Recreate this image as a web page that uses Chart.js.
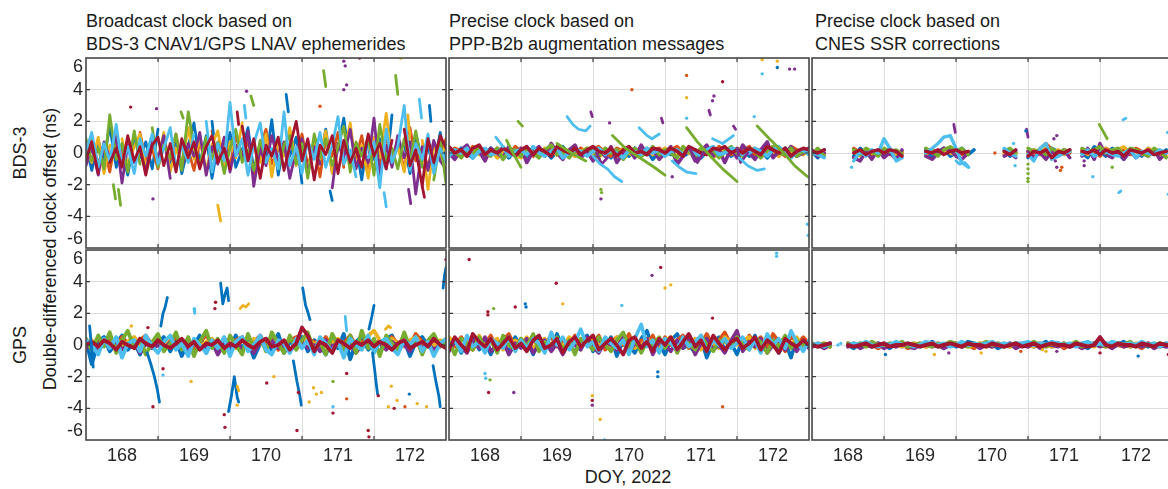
<!DOCTYPE html>
<html lang="en">
<head>
<meta charset="UTF-8">
<title>Double-differenced clock offset, DOY 168-172, 2022</title>
<script src="https://cdn.jsdelivr.net/npm/chart.js"></script>
<style>
  html, body { margin: 0; padding: 0; background: #fff; overflow: hidden; }
  #fig { position: relative; width: 1168px; height: 489px; font-family: "Liberation Sans", Arial, sans-serif; color: #1a1a1a; }
  #fig canvas { position: absolute; }
  .title { position: absolute; top: 10px; font-size: 18px; line-height: 22.5px; white-space: nowrap; }
  .ylab { position: absolute; font-size: 18px; line-height: 18px; white-space: nowrap; transform: translate(-50%, -50%) rotate(-90deg); }
  .xlab { position: absolute; font-size: 18px; line-height: 18px; white-space: nowrap; transform: translateX(-50%); }
</style>
</head>
<body>
<div id="fig">
  <div class="title" style="left:86px">Broadcast clock based on<br>BDS-3 CNAV1/GPS LNAV ephemerides</div>
  <div class="title" style="left:449px">Precise clock based on<br>PPP-B2b augmentation messages</div>
  <div class="title" style="left:815px">Precise clock based on<br>CNES SSR corrections</div>
  <div class="ylab" style="left:19.5px; top:153px">BDS-3</div>
  <div class="ylab" style="left:19.5px; top:345px">GPS</div>
  <div class="ylab" style="left:50px; top:249px">Double-differenced clock offset (ns)</div>
  <div class="xlab" style="left:628px; top:467.5px">DOY, 2022</div>
</div>

<script>
// gap marker
const _ = null;

// epochs (DOY), every 2 hours
const epochs = [
  167.50, 167.58, 167.67, 167.75, 167.83, 167.92, 168.00, 168.08, 168.17, 168.25, 168.33, 168.42,
  168.50, 168.58, 168.67, 168.75, 168.83, 168.92, 169.00, 169.08, 169.17, 169.25, 169.33, 169.42,
  169.50, 169.58, 169.67, 169.75, 169.83, 169.92, 170.00, 170.08, 170.17, 170.25, 170.33, 170.42,
  170.50, 170.58, 170.67, 170.75, 170.83, 170.92, 171.00, 171.08, 171.17, 171.25, 171.33, 171.42,
  171.50, 171.58, 171.67, 171.75, 171.83, 171.92, 172.00, 172.08, 172.17, 172.25, 172.33, 172.42,
  172.50
];
const dayLabels = [168, 169, 170, 171, 172];
const rowNames = ["BDS-3", "GPS"];
const colTitles = ["Broadcast clock", "PPP-B2b precise clock", "CNES SSR precise clock"];

// MATLAB default colour order, one per satellite group
const palette = ["#0072BD", "#D95319", "#EDB120", "#7E2F8E", "#77AC30", "#4DBEEE", "#A2142F"];

// ---------- BDS-3, broadcast ----------
const bdsBrdcSeries = [
  [0.5,-1.1,0.8,-0.4,1.7,-0.9,0.2,-1.4,1.0,-0.3,0.7,-1.0,
   1.5,_,-0.6,0.9,-1.3,0.4,1.9,-0.7,1.1,-1.6,0.5,-0.2,
   1.3,-0.9,0.2,1.6,-1.1,_,-0.5,2.1,-1.4,0.6,-0.2,1.0,
   -1.9,_,0.8,-0.6,1.5,-1.2,0.3,2.2,-0.9,0.5,-1.7,1.1,
   -0.4,0.9,-1.0,2.4,_,0.6,-1.3,1.2,-0.5,0.4,-0.9,1.3,
   -0.6],
  [-0.3,0.9,-0.7,0.4,-1.2,1.1,-0.2,0.6,_,1.3,-0.5,0.3,
   -1.0,0.8,-0.4,1.2,-0.8,0.2,-1.1,0.7,_,1.4,-0.6,0.5,
   -0.9,1.1,-0.3,0.8,-1.3,0.4,1.5,-0.7,0.2,_,0.9,-0.4,
   1.2,-0.8,0.5,-1.5,0.9,-0.2,1.3,-0.9,_,-0.3,1.1,-1.2,
   0.4,-0.7,1.0,-0.3,0.8,-1.1,1.6,-0.5,0.3,-0.9,0.7,-0.2,
   0.9],
  [0.2,-0.6,1.0,-1.3,0.5,_,0.9,-0.8,0.4,1.2,-1.0,0.6,
   -0.5,1.3,-1.2,0.3,-0.7,1.6,-0.4,0.8,-1.1,0.5,1.4,-0.9,
   0.7,-0.3,1.9,_,0.4,-0.6,1.2,-1.5,0.8,-0.2,1.6,-0.8,
   0.3,-1.1,0.9,-0.4,1.4,-1.3,0.6,-0.1,1.9,-0.9,0.5,-1.6,
   1.0,-0.3,2.5,-0.6,0.4,-1.2,1.3,_,0.8,-2.3,0.5,-0.4,
   0.6],
  [-0.8,0.4,-1.4,0.7,-0.3,1.0,-1.9,0.5,-0.6,0.2,-1.2,0.8,
   -0.4,1.1,-1.6,_,-0.9,0.6,-0.2,1.3,-1.4,0.4,-0.7,1.0,
   -1.2,0.5,-0.4,1.4,-2.1,0.3,-0.8,1.1,-0.5,0.7,-1.6,0.2,
   0.9,-1.3,0.4,-0.7,_,-2.2,0.6,-0.3,1.5,-1.0,0.3,-0.6,
   2.2,-1.4,0.5,-0.9,1.1,-0.3,0.7,-2.6,0.4,-1.1,0.8,-0.5,
   -1.0],
  [0.9,-0.5,0.3,-1.0,2.4,-0.4,0.6,-1.2,1.4,-0.7,_,1.6,
   -0.9,0.5,-0.3,1.2,-1.1,2.6,0.4,-0.8,1.0,-0.4,0.7,-1.3,
   0.3,1.5,-0.6,0.2,-1.1,0.8,-0.4,_,-1.0,0.5,1.1,-0.7,
   0.6,-1.6,1.2,-0.3,0.9,-0.8,0.4,1.7,-1.2,0.7,-0.2,1.0,
   -1.4,1.8,-0.5,0.3,-1.0,0.9,-0.6,1.4,-0.9,_,-1.7,0.8,
   -1.9],
  [0.1,1.3,-0.9,0.6,-0.5,1.8,-0.8,0.4,-1.3,0.9,-0.2,1.2,
   -0.7,0.3,1.6,-1.0,0.5,-0.6,1.2,_,2.0,-1.2,0.6,-0.5,
   3.2,-0.2,0.9,-1.4,0.6,1.9,-0.6,0.3,-1.0,2.6,-0.8,0.4,
   -1.3,0.8,-0.4,1.3,-0.9,0.5,2.3,-0.7,0.2,-1.5,_,-0.3,
   0.7,-2.2,1.5,-0.6,0.4,3.0,-1.1,0.6,-0.4,1.2,-1.3,0.3,
   -0.5],
  [-0.4,0.7,-1.3,_,-0.6,0.3,-0.9,1.1,-0.5,0.4,-1.4,0.5,
   1.0,-0.8,0.6,-1.2,0.9,-0.3,0.7,-1.0,0.4,1.1,-0.6,0.3,
   -1.0,_,1.7,-0.5,0.9,-1.6,0.5,-0.2,1.0,-1.1,0.4,2.0,
   -0.5,0.9,-1.7,0.5,-0.1,1.1,-1.3,0.8,-0.6,0.3,-0.9,1.2,
   -0.2,0.6,-1.0,0.8,_,1.5,-0.8,0.2,-2.1,0.9,-0.6,1.1,
   0.3]
];
const bdsBrdcArcs = [
  [[[170.28,3.7],[170.31,2.6]], [[172.27,3.0],[172.29,2.0]], [[170.89,-2.4],[170.92,-3.0]], [[169.25,2.0],[169.27,1.2]]],
  [],
  [[[169.33,-3.3],[169.37,-4.3]], [[171.97,2.4],[171.99,1.4]]],
  [[[171.98,-2.3],[172.01,-3.2]]],
  [[[170.80,5.2],[170.83,4.2]], [[171.80,4.9],[171.83,3.7]], [[169.79,3.6],[169.83,3.0]],
   [[167.88,-2.0],[167.91,-2.9]], [[167.95,-2.3],[167.98,-3.3]], [[168.82,2.6],[168.85,2.2]]],
  [[[172.13,3.4],[172.16,2.2]], [[171.64,-2.5],[171.67,-3.4]], [[169.70,3.0],[169.72,2.2]]],
  [[[172.17,-2.1],[172.20,-2.8]], [[169.60,2.6],[169.62,1.8]]]
];
const bdsBrdcDots = [
  [],
  [[170.75,2.95]],
  [[171.87,6.0]],
  [[171.08,5.8],[171.10,5.5],[171.12,4.3],[171.08,4.0],[168.43,-2.9],[168.48,2.8],[169.73,3.9]],
  [],
  [],
  [[171.30,6.0],[168.12,2.9]]
];

// ---------- BDS-3, PPP-B2b ----------
const bdsB2bSeries = [
  [0.1,-0.2,0.3,0.0,-0.3,0.2,-0.1,0.3,-0.2,0.1,-0.3,0.2,
   0.0,-0.2,0.3,-0.1,0.2,-0.3,0.1,0.4,-0.1,0.2,-0.2,0.0,
   0.3,-0.1,0.1,-0.3,0.2,0.0,-0.2,0.3,-0.1,0.2,-0.4,0.1,
   0.2,-0.1,0.3,-0.2,0.0,0.2,-0.3,0.1,0.3,-0.1,0.2,-0.2,
   0.1,0.3,-0.2,0.0,0.2,-0.3,0.1,-0.1,0.3,0.0,-0.2,0.2,
   0.1],
  [-0.1,0.3,0.1,-0.2,0.4,0.0,0.2,-0.1,0.3,0.1,-0.2,0.4,
   0.1,0.3,-0.2,0.2,0.0,0.4,-0.1,0.2,0.1,-0.2,0.3,0.0,
   0.2,0.4,0.0,-0.2,0.3,0.1,0.2,-0.1,0.4,0.0,0.2,0.3,
   -0.1,0.2,0.4,0.0,0.3,-0.2,0.1,0.3,0.0,0.4,0.1,-0.1,
   0.3,0.1,0.4,-0.1,0.2,0.0,0.3,0.1,-0.2,0.4,0.2,0.0,
   0.3],
  [0.2,0.0,-0.2,0.1,0.3,-0.1,0.0,0.2,-0.3,0.0,0.2,-0.1,
   -0.3,0.1,0.0,-0.2,0.3,0.1,-0.1,0.0,0.2,-0.2,0.1,0.3,
   0.0,-0.3,0.2,0.1,-0.1,0.3,0.0,-0.2,0.1,0.3,-0.1,0.0,
   0.3,0.1,-0.2,0.2,0.0,-0.1,0.3,0.1,-0.3,0.0,0.2,0.1,
   -0.2,0.0,0.2,0.3,-0.1,0.1,0.0,-0.2,0.2,0.1,0.0,-0.1,
   0.2],
  [0.0,-0.4,0.2,0.5,-0.2,0.1,-0.5,0.3,0.0,-0.3,0.4,-0.1,
   0.3,-0.6,0.1,0.4,-0.2,0.6,0.0,-0.4,0.2,0.5,-0.3,0.1,
   -0.5,0.2,-0.2,0.4,-0.6,0.0,0.3,-0.3,0.5,-0.1,0.2,-0.4,
   0.0,0.4,-0.7,-0.2,0.3,-0.5,0.1,0.5,-0.2,0.2,-0.6,0.3,
   -0.3,0.5,0.0,-0.4,0.2,0.7,-0.3,0.1,-0.1,0.4,-0.2,0.0,
   0.3],
  [0.3,0.1,-0.3,0.2,-0.1,0.4,0.0,-0.2,0.3,-0.4,0.1,0.2,
   -0.2,0.3,0.0,-0.3,0.2,0.5,-0.1,0.1,-0.3,0.2,0.0,0.3,
   0.1,-0.2,0.3,0.0,0.2,-0.4,0.1,0.3,-0.2,0.0,0.4,-0.1,
   0.2,0.0,-0.3,0.4,0.1,-0.2,0.3,0.0,0.2,-0.3,0.1,0.4,
   0.0,-0.2,0.3,0.1,-0.3,0.2,0.4,0.0,-0.1,0.3,-0.2,0.1,
   0.0],
  [-0.2,0.2,0.0,0.3,-0.3,0.1,0.3,-0.1,0.0,0.4,-0.2,0.1,
   0.2,-0.1,0.4,0.0,-0.2,0.1,0.3,-0.3,0.0,0.2,0.1,-0.2,
   0.1,0.3,-0.1,0.2,0.0,-0.3,0.2,0.1,-0.1,0.3,0.0,0.2,
   -0.2,0.1,0.2,-0.1,0.3,0.0,-0.2,0.2,0.4,-0.1,0.0,0.3,
   0.2,-0.1,0.0,0.3,0.1,-0.2,0.2,0.4,0.0,-0.3,0.1,0.2,
   -0.1],
  [0.4,0.0,0.2,-0.2,0.3,0.5,-0.1,0.2,0.0,0.3,0.1,-0.2,
   0.2,0.4,-0.1,0.3,0.1,-0.2,0.4,0.2,0.0,0.3,-0.1,0.2,
   0.4,0.1,0.0,0.3,-0.2,0.2,0.4,0.0,0.1,-0.1,0.3,0.2,
   0.0,0.3,0.1,-0.2,0.4,0.2,0.0,-0.1,0.3,0.2,0.4,0.0,
   0.2,0.0,0.3,0.1,-0.1,0.4,0.2,0.0,0.3,-0.2,0.1,0.3,
   0.2]
];
const bdsB2bArcs = [
  [],
  [],
  [],
  [[[169.47,2.6],[169.49,2.3]], [[170.45,2.2],[170.47,1.9]], [[171.11,2.7],[171.13,2.4]], [[171.45,1.7],[171.48,1.5]],
   [[169.55,0.0],[169.62,-0.7],[169.70,-0.3]], [[170.85,0.2],[170.95,-0.6],[171.05,0.1]], [[171.50,0.3],[171.55,-0.6],[171.65,0.0]]],
  [[[169.77,1.1],[169.95,0.3],[170.15,-0.3],[170.35,-0.9],[170.50,-1.4]],
   [[170.80,1.6],[170.95,0.7],[171.15,-0.3],[171.30,-1.0],[171.50,-1.8]],
   [[171.78,1.7],[171.95,0.9],[172.15,0.0],[172.30,-0.8],[172.48,-1.5]],
   [[168.30,0.8],[168.40,-0.1],[168.50,-0.9]], [[169.00,0.6],[169.20,0.0],[169.40,-0.5]], [[168.46,2.0],[168.52,1.7]]],
  [[[169.14,2.3],[169.22,1.8],[169.30,1.5],[169.40,1.4],[169.46,1.7]],
   [[169.50,-0.2],[169.60,-0.7],[169.70,-1.0],[169.80,-1.5],[169.90,-1.8]],
   [[170.14,1.6],[170.25,1.1],[170.32,0.9],[170.42,1.2]],
   [[170.60,-0.5],[170.70,-0.9],[170.80,-1.2],[170.93,-1.3]],
   [[171.16,0.9],[171.30,0.6],[171.45,1.1]],
   [[171.53,-0.3],[171.65,-0.8],[171.78,-1.1],[171.88,-1.0]],
   [[168.15,1.0],[168.25,0.4]]],
  []
];
const bdsB2bDots = [
  [[172.06,5.4]],
  [[170.04,4.0],[170.80,4.9]],
  [[170.80,3.5],[171.85,5.9],[172.06,5.8]],
  [[171.18,3.6],[171.16,3.3],[172.23,5.3],[172.30,5.3],[169.73,1.9],[169.61,-2.9],[170.60,-1.5]],
  [[169.61,-2.3],[169.62,-2.5]],
  [[170.80,2.2],[171.85,5.0],[171.74,2.3],[172.48,-4.5],[172.49,-5.2]],
  [[171.30,4.5]]
];

// ---------- BDS-3, CNES ----------
const bdsCnesSeries = [
  [0.1,-0.3,0.2,_,_,_,_,-0.2,0.3,0.0,-0.3,0.2,
   -0.1,0.3,-0.2,0.1,_,_,_,0.2,-0.3,0.1,0.3,-0.2,
   0.0,0.3,-0.1,0.2,_,_,_,_,0.2,-0.2,0.1,_,
   -0.3,0.2,0.0,-0.2,0.3,0.1,-0.1,0.2,_,0.0,-0.3,0.4,
   0.1,-0.2,0.3,0.0,-0.4,0.2,0.1,-0.2,0.3,0.0,-0.1,0.2,
   _],
  [-0.1,0.2,0.0,_,_,_,_,0.3,0.0,0.2,-0.1,0.1,
   0.2,-0.1,0.1,0.0,_,_,_,-0.1,0.2,0.0,0.3,0.1,
   0.2,-0.1,0.1,_,_,_,_,_,-0.1,0.2,0.0,_,
   0.1,-0.2,0.3,0.6,0.2,-0.1,0.2,0.0,_,0.2,0.0,0.1,
   -0.2,0.3,0.1,0.0,0.2,-0.1,0.3,0.1,0.0,0.2,-0.1,0.1,
   _],
  [0.0,0.1,-0.1,_,_,_,_,0.1,-0.2,0.2,0.0,-0.1,
   0.1,0.0,-0.2,0.1,_,_,_,0.0,0.1,-0.1,0.2,0.0,
   -0.1,0.2,0.0,_,_,_,_,_,0.0,0.1,-0.1,_,
   0.0,0.2,-0.1,0.4,0.0,0.2,-0.1,0.1,_,0.1,-0.1,0.2,
   0.0,0.3,-0.1,0.2,0.4,0.0,0.1,-0.1,0.3,0.1,0.0,-0.2,
   _],
  [0.2,-0.2,0.0,_,_,_,_,-0.3,-0.5,0.1,-0.4,0.2,
   -0.3,0.0,-0.4,0.2,_,_,_,-0.2,-0.4,0.0,0.3,0.2,
   -0.2,-0.4,0.0,_,_,_,_,_,-0.2,0.0,-0.3,_,
   0.1,-0.3,0.0,-0.4,0.1,-0.2,0.2,-0.3,_,-0.2,0.3,-0.4,
   0.6,-0.1,-0.3,0.2,-0.4,0.1,-0.3,0.0,-0.2,0.2,-0.4,0.0,
   _],
  [-0.1,0.3,-0.2,_,_,_,_,0.2,-0.1,0.3,0.1,-0.2,
   0.3,0.1,0.2,-0.1,_,_,_,0.3,0.1,-0.2,0.2,0.4,
   0.1,0.3,-0.1,_,_,_,_,_,0.1,0.3,0.0,_,
   0.3,0.1,0.2,-0.1,0.3,0.0,0.2,0.1,_,0.3,0.1,0.2,
   0.4,0.0,0.2,0.3,-0.1,0.3,0.2,0.0,-0.2,0.3,0.1,-0.3,
   _],
  [0.0,-0.1,-0.3,_,_,_,_,-0.5,0.1,-0.2,0.2,0.0,
   0.9,0.3,-0.5,-0.3,_,_,_,0.0,0.3,0.6,1.0,1.1,
   0.3,-0.6,-0.9,_,_,_,_,_,0.3,0.0,-0.2,_,
   -0.1,-0.5,0.3,0.6,-0.4,-0.2,0.0,0.1,_,-0.1,0.2,-0.2,
   0.0,0.1,-0.1,-0.2,0.0,0.2,-0.3,0.1,0.0,-0.1,0.2,0.0,
   _],
  [0.1,0.0,0.2,_,_,_,_,0.0,0.2,-0.1,0.1,0.2,
   0.0,0.2,0.1,-0.2,_,_,_,0.1,0.0,0.2,-0.1,0.1,
   0.2,0.0,0.1,_,_,_,_,_,0.1,-0.1,0.2,_,
   -0.2,0.1,0.0,0.2,-0.3,0.1,0.0,0.2,_,0.1,0.0,0.2,
   -0.1,0.2,0.0,0.1,-0.2,0.2,0.1,0.0,0.2,-0.1,0.0,0.1,
   _]
];
const bdsCnesArcs = [
  [],
  [],
  [],
  [[[169.47,1.8],[169.49,1.3]], [[170.48,1.5],[170.50,1.0]]],
  [[[171.49,1.8],[171.54,1.4],[171.60,0.9]]],
  [[[169.50,-0.5],[169.55,-0.7],[169.62,-0.6],[169.68,-0.9]], [[171.82,2.1],[171.86,2.2]], [[171.76,-2.5],[171.79,-2.4]]],
  []
];
const bdsCnesDots = [
  [[170.47,1.4]],
  [[170.97,-0.9],[170.95,-1.1],[170.04,0.0]],
  [],
  [[170.88,-0.5],[170.90,-0.9],[171.28,-0.5],[171.28,-0.8],[170.86,0.9],[170.90,1.1]],
  [[170.50,-0.7],[170.50,-1.0],[170.50,-1.3],[170.50,-1.6],[170.50,-1.8],[171.67,-0.9]],
  [[171.40,-1.5],[172.44,1.3],[172.45,-2.6],[168.05,-0.9],[170.32,-0.8],[170.30,0.6]],
  []
];

// ---------- GPS, broadcast ----------
const gpsBrdcSeries = [
  [0.3,-1.2,0.2,0.5,-0.4,0.1,0.6,-0.3,0.2,-0.6,0.4,-0.2,
   0.1,0.5,-0.4,0.3,-0.7,0.2,0.0,0.6,-0.5,0.3,-0.1,0.4,
   -0.3,0.6,-0.2,0.3,-0.8,0.1,0.4,-0.3,0.7,-0.5,0.2,-0.1,
   0.5,-0.4,0.3,0.0,-0.6,0.4,-0.2,0.7,-0.9,0.2,0.5,-0.3,
   0.1,-0.5,0.4,0.6,-0.2,0.3,-0.7,0.2,0.5,-0.1,0.3,0.0,
   0.2],
  [0.2,-0.1,0.4,0.0,0.3,-0.2,0.5,0.1,-0.1,0.3,0.6,0.0,
   0.4,-0.2,0.1,0.5,0.0,0.3,-0.3,0.2,0.6,0.1,-0.1,0.4,
   0.0,0.3,0.5,-0.2,0.2,0.6,0.0,0.4,-0.3,0.1,0.3,0.5,
   -0.1,0.4,0.2,0.0,0.5,-0.2,0.3,0.1,0.6,-0.1,0.2,0.4,
   0.0,0.3,-0.2,0.5,0.1,0.4,0.0,0.7,0.2,-0.1,0.3,0.1,
   0.3],
  [0.1,0.3,-0.2,0.2,0.0,0.4,-0.1,0.2,0.5,0.0,0.3,-0.1,
   0.2,0.0,0.4,-0.2,0.1,0.3,0.0,-0.1,0.2,0.4,0.0,0.3,
   0.1,-0.2,0.3,0.0,0.4,0.1,-0.1,0.3,0.2,0.0,0.4,0.1,
   0.2,0.5,0.0,0.3,-0.1,0.2,0.4,0.0,0.3,0.1,-0.2,0.6,
   0.9,0.3,0.0,0.4,0.1,-0.1,0.3,0.5,0.0,0.2,-0.1,0.3,
   0.1],
  [-0.2,0.1,-0.4,0.2,-0.1,0.3,-0.3,0.0,0.2,-0.5,0.1,-0.2,
   0.0,-0.3,0.2,-0.1,0.3,-0.4,0.1,-0.2,0.0,0.2,-0.6,0.1,
   -0.1,0.2,-0.3,0.0,-0.5,0.2,-0.1,0.3,-0.2,0.0,-0.4,0.1,
   0.2,-0.2,0.0,-0.4,0.3,-0.1,0.1,-0.3,0.2,-0.5,0.0,0.2,
   -0.2,0.1,-0.3,0.2,-0.1,0.0,-0.4,0.3,-0.2,0.1,-0.3,0.0,
   -0.1],
  [0.4,-0.3,0.6,-0.1,0.8,-0.5,0.3,0.9,-0.2,0.4,-0.6,0.2,
   0.7,-0.4,0.1,0.8,-0.3,0.5,-0.7,0.2,0.9,-0.2,0.4,-0.5,
   0.6,0.0,-0.6,0.7,-0.2,0.5,-0.4,0.8,0.1,-0.5,0.6,-0.3,
   0.3,0.8,-0.4,0.2,-0.6,0.7,0.0,-0.3,0.6,-0.5,0.9,-0.2,
   0.4,-0.7,0.6,0.1,-0.4,0.8,-0.2,0.5,-0.6,0.3,0.7,-0.1,
   0.2],
  [0.3,0.0,-0.6,0.4,-0.2,0.5,-0.8,0.1,0.3,-0.4,0.6,-0.1,
   -0.5,0.2,0.6,-0.3,0.1,-0.7,0.4,0.0,-0.5,0.3,-0.2,0.5,
   -0.7,0.2,0.5,-0.4,0.0,0.6,-0.3,-0.6,0.3,0.1,-0.5,0.4,
   -0.2,0.3,-0.6,0.5,0.1,-0.4,0.2,-0.8,0.4,0.0,-0.3,0.6,
   -0.5,0.2,0.4,-0.2,-0.6,0.3,0.0,0.5,-0.4,0.2,-0.7,0.1,
   0.4],
  [0.0,0.2,-0.1,0.3,0.1,-0.3,0.2,0.0,-0.2,0.4,0.1,-0.1,
   0.3,0.0,-0.2,0.1,0.4,-0.1,0.2,-0.3,0.1,0.0,0.3,-0.2,
   0.1,-0.1,0.3,0.0,-0.2,0.2,0.4,-0.1,0.0,0.3,-0.3,0.1,
   1.1,0.6,-0.4,0.2,0.0,-0.5,0.3,0.1,-0.2,0.2,0.0,0.3,
   -0.1,0.2,0.0,-0.3,0.1,0.3,-0.2,0.0,0.2,-0.1,0.4,0.0,
   -0.2]
];
const gpsBrdcArcs = [
  [[[168.35,-0.5],[168.40,-1.2],[168.45,-2.0],[168.49,-2.8],[168.52,-3.6]],
   [[168.54,1.2],[168.57,2.0],[168.60,2.4],[168.63,3.0]],
   [[169.37,3.9],[169.40,2.6],[169.43,3.2],[169.46,3.6],[169.48,2.8]],
   [[169.48,-4.2],[169.52,-3.2],[169.56,-2.0],[169.60,-3.3],[169.62,-3.6]],
   [[170.38,-1.0],[170.43,-2.3],[170.47,-3.2],[170.49,-3.8]],
   [[170.51,3.6],[170.55,2.5],[170.58,2.1],[170.61,1.6]],
   [[171.43,1.0],[171.47,1.8],[171.50,2.5]],
   [[171.48,-0.5],[171.51,-1.6],[171.53,-2.4],[171.55,-3.1]],
   [[172.32,-1.3],[172.36,-2.3],[172.40,-3.2],[172.42,-3.9]],
   [[172.46,3.6],[172.48,4.4],[172.50,4.9]],
   [[167.55,1.2],[167.57,0.2],[167.60,-1.4]]],
  [],
  [[[169.64,2.3],[169.68,2.5],[169.72,2.4],[169.76,2.6]], [[171.66,1.0],[171.70,1.2],[171.73,1.1]], [[169.60,-2.6],[169.62,-2.9]]],
  [],
  [],
  [[[169.00,2.3],[169.01,2.0]], [[171.10,1.8],[171.12,0.9]]],
  []
];
const gpsBrdcDots = [
  [[171.99,-3.1]],
  [[171.12,-3.4],[171.93,-3.9]],
  [[168.13,1.2],[168.96,-2.3],[169.60,-3.8],[170.11,-2.0],[170.60,-3.6],[170.66,-2.7],[170.70,-3.1],[170.77,-3.0],
   [171.74,-2.6],[171.82,-3.5],[171.70,-3.9],[172.10,-3.7],[172.23,-3.9]],
  [],
  [[170.93,-2.3]],
  [[168.57,-1.9],[170.93,-3.9]],
  [[168.43,-3.9],[168.36,1.1],[168.57,-1.5],[169.29,2.3],[169.30,2.7],[169.42,-4.4],[169.43,-5.2],[170.01,-2.4],
   [170.43,-5.4],[170.45,-3.0],[170.93,-4.3],[171.12,-1.8],[171.42,-5.4],[171.43,-5.8],[171.56,-3.2],[171.78,-4.0],[172.50,5.4]]
];

// ---------- GPS, PPP-B2b ----------
const gpsB2bSeries = [
  [-0.2,0.4,-0.5,0.1,0.6,-0.3,0.2,-0.6,0.3,0.0,-0.4,0.5,
   -0.1,0.3,-0.6,0.4,0.0,-0.3,0.7,-0.2,0.1,-0.5,0.3,0.6,
   -0.4,0.2,-0.1,0.5,-0.7,0.3,0.0,-0.5,0.4,0.9,-0.3,0.1,
   -0.6,0.3,0.7,-0.2,0.0,-0.5,0.4,-0.8,0.2,0.5,-0.3,0.1,
   -0.6,0.4,-0.2,0.6,-0.4,0.0,0.3,-0.5,0.2,-0.8,0.4,-0.1,
   0.2],
  [0.3,-0.1,0.5,0.0,-0.3,0.4,0.1,0.6,-0.2,0.3,0.7,-0.1,
   0.4,0.0,0.6,-0.3,0.2,0.5,-0.1,0.3,0.0,0.6,-0.2,0.4,
   0.1,0.6,-0.3,0.2,0.5,0.0,0.7,-0.2,0.3,0.1,0.6,-0.4,
   0.5,0.0,0.3,0.6,-0.2,0.4,0.1,0.7,-0.1,0.3,0.8,0.0,
   0.4,-0.3,0.6,0.1,0.5,-0.2,0.7,0.2,-0.4,0.6,0.0,0.5,
   0.1],
  [0.5,0.1,-0.2,0.3,0.0,0.6,-0.1,0.2,0.4,-0.3,0.1,0.3,
   0.0,0.5,-0.2,0.2,0.4,0.0,0.3,-0.1,0.5,0.1,-0.2,0.3,
   0.4,0.0,0.2,-0.3,0.5,0.1,0.3,-0.2,0.0,0.4,0.1,-0.1,
   0.3,0.5,-0.1,0.2,0.0,0.4,-0.3,0.3,0.1,-0.2,0.5,0.2,
   0.0,0.3,0.5,-0.2,0.2,0.4,-0.1,0.1,0.3,0.0,0.5,-0.2,
   0.2],
  [-0.4,0.2,-0.1,-0.5,0.3,-0.2,0.5,-0.4,0.0,0.3,-0.6,0.1,
   -0.2,0.4,-0.5,0.0,0.3,-0.4,0.1,-0.6,0.2,0.0,-0.3,0.5,
   -0.1,-0.5,0.2,0.0,-0.3,0.6,-0.4,0.1,-0.2,0.4,-0.6,0.2,
   0.0,-0.4,0.3,-0.2,0.5,-0.6,0.1,0.4,-0.3,0.0,-0.5,0.3,
   0.9,-0.4,0.2,-0.1,0.4,-0.5,0.0,0.3,-0.3,0.1,-0.4,0.2,
   -0.2],
  [0.2,-0.6,0.4,0.1,-0.3,0.5,-0.2,0.3,-0.5,0.6,0.0,-0.3,
   0.4,-0.1,0.7,-0.4,0.2,0.0,0.5,-0.3,0.3,-0.6,0.4,0.1,
   -0.3,0.5,0.0,-0.4,0.3,0.8,-0.1,0.4,-0.5,0.2,0.0,0.5,
   -0.2,0.4,-0.5,0.3,0.1,-0.3,0.6,0.0,-0.4,0.3,0.2,-0.1,
   0.5,0.0,-0.3,0.4,0.2,-0.5,0.3,-0.1,0.6,-0.2,0.3,0.0,
   0.1],
  [0.0,0.3,-0.4,0.6,-0.1,0.2,-0.5,0.4,0.1,-0.2,0.5,-0.4,
   0.3,-0.2,0.4,0.1,-0.5,0.8,0.0,0.5,-0.3,0.2,1.0,-0.1,
   0.2,-0.4,0.5,0.1,-0.2,0.3,-0.6,0.4,1.3,-0.1,0.3,-0.5,
   0.4,0.1,-0.3,0.5,-0.1,0.2,0.6,-0.4,0.3,0.0,0.4,-0.2,
   0.1,0.5,-0.3,0.3,-0.5,0.7,0.0,0.4,-0.2,0.9,0.2,-0.4,
   0.3],
  [-0.3,0.5,0.0,-0.4,0.7,0.2,-0.1,0.4,-0.3,0.1,0.5,-0.2,
   0.1,-0.4,0.3,0.6,-0.2,0.0,0.4,-0.5,0.2,0.5,-0.1,0.3,
   0.6,-0.3,0.1,0.4,0.0,-0.6,0.3,0.5,-0.2,0.2,-0.4,0.4,
   0.0,0.5,-0.3,0.2,0.7,-0.1,0.3,-0.4,0.6,0.1,-0.3,0.2,
   0.4,-0.2,0.1,0.5,-0.3,0.3,0.0,-0.5,0.4,0.1,-0.1,0.3,
   0.0]
];
const gpsB2bArcs = [[], [], [], [], [], [], []];
const gpsB2bDots = [
  [[168.56,2.6],[168.57,2.4],[170.40,-1.7],[170.40,-2.0]],
  [[171.30,-3.9]],
  [[169.08,2.6],[170.50,3.6],[170.58,3.8],[169.49,-3.2],[169.60,-4.7]],
  [[170.32,4.4],[168.40,-3.0],[169.49,-3.8]],
  [[168.12,2.3],[168.07,-2.2]],
  [[169.90,2.5],[172.05,5.8],[172.05,5.6],[168.00,-1.8],[168.01,-2.1],[169.65,-6.2],[169.66,-6.0]],
  [[167.78,5.4],[168.42,2.4],[168.04,2.1],[168.04,1.9],[168.99,3.9],[170.44,4.9],[171.16,1.7],[168.05,-3.0],[169.49,-3.5]]
];

// ---------- GPS, CNES ----------
const gpsCnesSeries = [
  [0.1,-0.1,0.0,0.1,_,_,0.0,-0.2,0.1,0.0,-0.1,0.1,
   0.0,-0.2,0.1,-0.1,0.0,0.1,-0.1,0.0,0.2,-0.1,0.0,0.1,
   -0.1,0.0,0.2,0.1,-0.1,0.0,0.1,-0.2,0.0,0.1,-0.1,0.0,
   0.1,-0.1,0.0,0.2,-0.1,0.1,0.0,-0.1,0.1,0.0,-0.2,0.1,
   0.0,0.1,-0.1,0.0,0.2,-0.1,0.0,0.1,-0.1,0.0,0.1,-0.1,
   0.0],
  [-0.1,0.1,0.0,-0.1,_,_,0.1,0.0,-0.1,0.1,0.0,-0.2,
   0.1,0.0,-0.1,0.1,-0.2,0.0,0.1,-0.1,0.0,0.1,-0.1,0.0,
   0.1,-0.1,0.0,-0.2,0.1,0.0,-0.1,0.1,0.0,-0.1,0.1,0.0,
   -0.1,0.0,0.1,-0.1,0.0,0.1,-0.2,0.0,0.1,-0.1,0.0,0.1,
   0.0,-0.1,0.1,0.0,-0.1,0.1,0.0,-0.2,0.1,0.0,-0.1,0.0,
   0.1],
  [0.0,-0.1,0.1,0.0,_,_,-0.1,0.1,0.0,-0.1,0.1,0.0,
   -0.1,0.1,0.0,-0.1,0.0,0.1,0.0,-0.1,0.1,0.0,-0.1,0.0,
   0.0,0.1,-0.1,0.0,0.1,-0.1,0.0,0.0,0.1,-0.1,0.0,0.1,
   0.0,-0.1,0.1,0.0,-0.1,0.0,0.1,-0.1,0.0,0.1,0.0,-0.1,
   0.1,0.0,-0.1,0.1,0.0,-0.1,0.1,0.0,0.0,-0.1,0.1,0.0,
   -0.1],
  [-0.1,0.0,-0.2,0.0,_,_,-0.1,0.1,-0.2,0.0,-0.1,0.1,
   -0.2,0.0,-0.1,0.1,-0.1,-0.2,0.0,0.1,-0.1,0.0,-0.2,0.0,
   0.0,-0.1,0.0,0.1,-0.2,0.0,-0.1,0.0,-0.1,0.1,-0.2,0.0,
   -0.1,0.1,-0.2,0.0,0.0,-0.1,0.1,-0.1,0.0,-0.2,0.0,0.1,
   -0.1,0.0,-0.2,0.1,-0.1,0.0,0.0,-0.1,0.1,-0.2,0.0,-0.1,
   0.0],
  [0.1,0.0,0.1,-0.1,_,_,0.1,0.0,0.1,-0.1,0.2,0.0,
   0.0,0.1,0.0,0.2,-0.1,0.0,0.1,0.0,-0.1,0.1,0.0,0.2,
   0.1,0.0,-0.1,0.1,0.0,0.2,0.0,0.1,-0.1,0.0,0.1,0.0,
   0.0,0.2,0.0,-0.1,0.1,0.0,0.1,0.0,0.2,-0.1,0.1,0.0,
   0.1,-0.1,0.0,0.1,0.0,0.2,-0.1,0.1,0.0,0.1,0.0,0.1,
   0.0],
  [0.0,0.1,-0.1,0.1,_,_,0.0,0.1,0.0,0.2,0.0,-0.1,
   0.1,0.0,0.2,0.0,0.1,-0.1,0.0,0.2,0.1,0.0,0.1,-0.1,
   0.0,0.2,0.0,0.1,0.0,0.1,0.2,0.0,0.1,0.0,0.1,0.1,
   0.2,0.0,0.1,0.0,0.2,0.1,0.0,0.1,-0.1,0.1,0.2,0.0,
   0.1,0.0,0.2,0.1,0.0,0.1,0.0,0.2,0.0,0.1,-0.1,0.1,
   0.1],
  [0.0,-0.1,0.0,0.1,_,_,0.0,-0.1,0.0,0.1,-0.1,0.0,
   0.1,-0.1,0.0,0.0,0.1,0.0,-0.1,0.0,0.1,-0.1,0.0,0.1,
   0.0,-0.1,0.1,0.0,0.0,-0.1,0.1,0.0,-0.1,0.0,0.1,-0.1,
   0.0,0.1,-0.1,0.0,0.1,0.0,0.0,-0.1,0.1,0.0,-0.1,0.0,
   0.5,0.0,-0.1,0.1,0.0,0.0,-0.1,0.1,0.0,-0.1,0.1,0.0,
   0.0]
];
const gpsCnesArcs = [[], [], [], [], [], [], []];
const gpsCnesDots = [
  [[168.52,-0.6],[172.03,-0.7]],
  [[170.40,-0.4]],
  [[169.20,-0.6],[169.85,-0.5],[170.70,-0.3],[170.75,-0.4]],
  [[169.40,-0.5],[170.90,-0.4]],
  [],
  [[167.86,0.0],[167.90,0.1]],
  [[171.50,-0.5],[172.45,-0.6]]
];

// ---------- layout ----------
const colLeft = [86, 449, 812];
const rowTop = [58, 250];
const plotW = 360, plotH = 190;
const pad = 4, padTop = 12;
const yLabelW = 40, xLabelH = 30;

const panels = [
  { row: 0, col: 0, lw: 2.8, series: bdsBrdcSeries, arcs: bdsBrdcArcs, dots: bdsBrdcDots },
  { row: 0, col: 1, lw: 3.6, series: bdsB2bSeries, arcs: bdsB2bArcs, dots: bdsB2bDots },
  { row: 0, col: 2, lw: 3.4, series: bdsCnesSeries, arcs: bdsCnesArcs, dots: bdsCnesDots },
  { row: 1, col: 0, lw: 3.8, series: gpsBrdcSeries, arcs: gpsBrdcArcs, dots: gpsBrdcDots },
  { row: 1, col: 1, lw: 3.6, series: gpsB2bSeries, arcs: gpsB2bArcs, dots: gpsB2bDots },
  { row: 1, col: 2, lw: 4.0, series: gpsCnesSeries, arcs: gpsCnesArcs, dots: gpsCnesDots }
];

const tickFont = { family: '"Liberation Sans", Arial, sans-serif', size: 18 };
const gridColor = '#dedede';
const isDay = v => dayLabels.some(d => Math.abs(d - v) < 1e-6);

// axes box with inward tick marks
const boxPlugin = {
  id: 'box',
  beforeDraw(chart) {
    // keep the end labels (-6 and 6) inside the axes, like the original
    const s = chart.scales.y;
    if (!s.options.ticks.display) return;
    s.getLabelItems().forEach(it => {
      const v = Number(String(it.label).replace('\u2212', '-'));
      if (v === 6) it.options.textBaseline = 'top';
      if (v === -6) it.options.textBaseline = 'bottom';
    });
  },
  afterDraw(chart) {
    const { ctx, chartArea: a, scales } = chart;
    ctx.save();
    ctx.strokeStyle = '#3a3a3a';
    ctx.lineWidth = 1.2;
    ctx.beginPath();
    scales.x.ticks.forEach(t => {
      if (isDay(t.value) || t.value <= 167.5 || t.value >= 172.5) return;
      const px = scales.x.getPixelForValue(t.value);
      ctx.moveTo(px, a.top); ctx.lineTo(px, a.top + 4);
      ctx.moveTo(px, a.bottom); ctx.lineTo(px, a.bottom - 4);
    });
    scales.y.ticks.forEach(t => {
      if (Math.abs(t.value) >= 6) return;
      const py = scales.y.getPixelForValue(t.value);
      ctx.moveTo(a.left, py); ctx.lineTo(a.left + 4, py);
      ctx.moveTo(a.right, py); ctx.lineTo(a.right - 4, py);
    });
    ctx.stroke();
    ctx.lineWidth = 1.6;
    ctx.strokeStyle = '#4a4a4a';
    ctx.strokeRect(a.left, a.top, a.width, a.height);
    ctx.restore();
  }
};

function arcPoints(arcs) {
  const out = [];
  arcs.forEach(arc => {
    arc.forEach(p => out.push({ x: p[0], y: p[1] }));
    out.push({ x: arc[arc.length - 1][0], y: null });
  });
  return out;
}

function buildDatasets(p) {
  const sets = [];
  for (let k = 0; k < palette.length; k++) {
    const c = palette[k];
    sets.push({
      data: p.series[k].map((v, i) => ({ x: epochs[i], y: v })),
      showLine: true, borderColor: c, backgroundColor: c, borderWidth: p.lw,
      borderJoinStyle: 'round', borderCapStyle: 'round', pointRadius: 0, order: 6 - k
    });
    sets.push({
      data: arcPoints(p.arcs[k]),
      showLine: true, borderColor: c, backgroundColor: c, borderWidth: 2.8,
      borderJoinStyle: 'round', borderCapStyle: 'round', pointRadius: 0, order: -10 + 6 - k
    });
    sets.push({
      data: p.dots[k].map(d => ({ x: d[0], y: d[1] })),
      showLine: false, pointRadius: 1.7, pointBorderWidth: 0,
      pointBackgroundColor: c, borderColor: c, order: -20 + 6 - k
    });
  }
  return sets;
}

const fig = document.getElementById('fig');
panels.forEach(p => {
  const yw = p.col === 0 ? yLabelW : 0;
  const xh = p.row === 1 ? xLabelH : 0;
  const canvas = document.createElement('canvas');
  const w = pad + yw + plotW + pad;
  const h = padTop + plotH + xh + pad;
  canvas.width = w; canvas.height = h;
  canvas.style.left = (colLeft[p.col] - pad - yw) + 'px';
  canvas.style.top = (rowTop[p.row] - padTop) + 'px';
  canvas.style.width = w + 'px'; canvas.style.height = h + 'px';
  canvas.setAttribute('aria-label', rowNames[p.row] + ' - ' + colTitles[p.col]);
  fig.appendChild(canvas);

  new Chart(canvas, {
    type: 'scatter',
    data: { datasets: buildDatasets(p) },
    options: {
      responsive: false,
      animation: false,
      events: [],
      layout: { padding: { top: padTop, right: pad, bottom: pad, left: pad } },
      plugins: { legend: { display: false }, tooltip: { enabled: false } },
      scales: {
        x: {
          type: 'linear', min: 167.5, max: 172.5,
          border: { display: false },
          grid: { drawTicks: false, lineWidth: 1, color: ctx => (isDay(ctx.tick.value) ? 'rgba(0,0,0,0)' : gridColor) },
          ticks: {
            display: p.row === 1, stepSize: 0.5, autoSkip: false, maxRotation: 0, padding: 5,
            color: '#262626', font: tickFont,
            callback: v => (isDay(v) ? String(Math.round(v)) : '')
          },
          afterFit: s => { s.height = xh; s.paddingLeft = 0; s.paddingRight = 0; }
        },
        y: {
          type: 'linear', min: -6, max: 6,
          border: { display: false },
          grid: { drawTicks: false, lineWidth: 1, color: gridColor },
          ticks: { display: p.col === 0, stepSize: 2, padding: 3, color: '#262626', font: tickFont },
          afterFit: s => { s.width = yw; s.paddingTop = 0; s.paddingBottom = 0; }
        }
      }
    },
    plugins: [boxPlugin]
  });
});
</script>
</body>
</html>
